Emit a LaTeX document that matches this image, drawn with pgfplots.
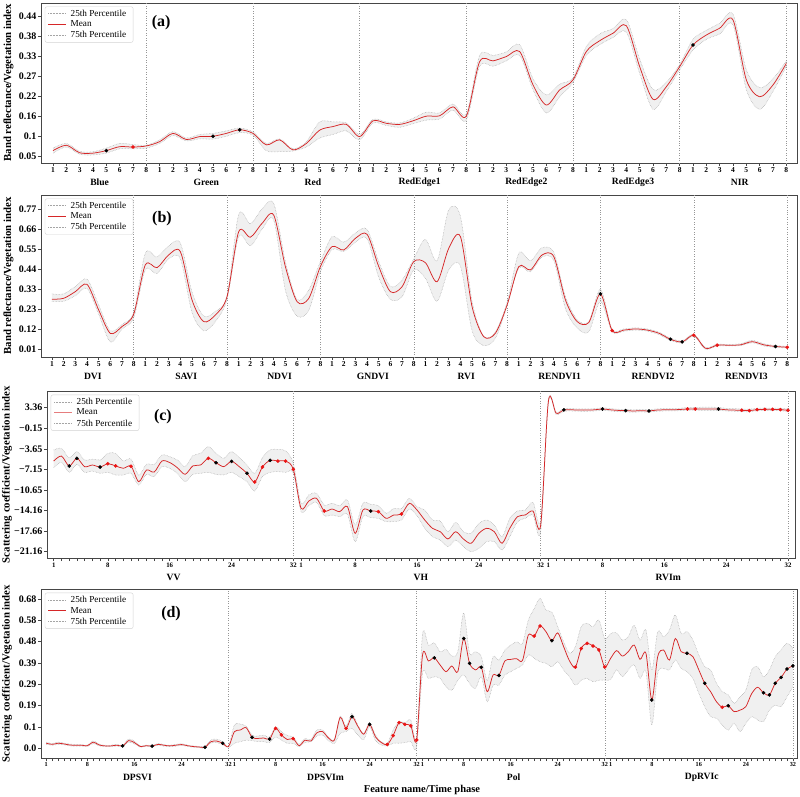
\documentclass[border=0pt]{standalone}
\usepackage{fontspec}
\setmainfont{Liberation Serif}
\usepackage{pgfplots}
\pgfplotsset{compat=1.18}
\usepackage{pgfplotstable}
\usepgfplotslibrary{fillbetween}
\definecolor{meanred}{RGB}{214,39,40}
\definecolor{mkred}{RGB}{235,20,20}
\definecolor{bandfill}{RGB}{240,240,240}
\definecolor{pctgray}{RGB}{165,165,165}
\definecolor{sepgray}{RGB}{150,150,150}
\definecolor{framegray}{RGB}{70,70,70}

\pgfplotstableread{
x m u l
0 0.065 0.072 0.058
1 0.080 0.085 0.075
2 0.059 0.063 0.055
3 0.058 0.062 0.053
4 0.065 0.072 0.058
5 0.076 0.085 0.070
6 0.075 0.082 0.070
7 0.078 0.080 0.072
8 0.090 0.095 0.085
9 0.113 0.118 0.107
10 0.096 0.100 0.092
11 0.104 0.110 0.098
12 0.105 0.113 0.097
13 0.113 0.120 0.105
14 0.123 0.128 0.115
15 0.113 0.117 0.108
16 0.081 0.085 0.065
17 0.095 0.098 0.062
18 0.067 0.070 0.064
19 0.085 0.090 0.075
20 0.122 0.145 0.100
21 0.132 0.145 0.110
22 0.138 0.142 0.120
23 0.104 0.110 0.095
24 0.148 0.152 0.142
25 0.141 0.145 0.135
26 0.138 0.142 0.130
27 0.148 0.155 0.140
28 0.161 0.172 0.150
29 0.162 0.170 0.153
30 0.187 0.195 0.178
31 0.161 0.168 0.150
32 0.313 0.330 0.300
33 0.315 0.330 0.300
34 0.327 0.340 0.315
35 0.341 0.360 0.330
36 0.248 0.265 0.235
37 0.192 0.220 0.170
38 0.234 0.250 0.215
39 0.262 0.268 0.255
40 0.341 0.355 0.330
41 0.371 0.390 0.360
42 0.392 0.405 0.380
43 0.413 0.430 0.395
44 0.299 0.320 0.280
45 0.208 0.235 0.180
46 0.243 0.255 0.230
47 0.299 0.305 0.290
48 0.359 0.375 0.345
49 0.387 0.400 0.375
50 0.406 0.420 0.390
51 0.429 0.445 0.415
52 0.262 0.290 0.235
53 0.215 0.240 0.180
54 0.248 0.265 0.230
55 0.308 0.315 0.300
}\ta

\pgfplotstableread{
x m u l
0 0.281 0.31 0.27
1 0.286 0.31 0.27
2 0.322 0.35 0.30
3 0.362 0.39 0.34
4 0.223 0.25 0.20
5 0.096 0.11 0.05
6 0.133 0.145 0.12
7 0.200 0.21 0.18
8 0.467 0.53 0.44
9 0.452 0.51 0.42
10 0.521 0.57 0.50
11 0.539 0.585 0.50
12 0.277 0.32 0.21
13 0.160 0.19 0.11
14 0.196 0.215 0.16
15 0.295 0.30 0.28
16 0.647 0.74 0.62
17 0.617 0.69 0.57
18 0.692 0.77 0.66
19 0.737 0.80 0.71
20 0.458 0.485 0.33
21 0.268 0.28 0.19
22 0.285 0.33 0.22
23 0.458 0.485 0.43
24 0.566 0.62 0.55
25 0.548 0.59 0.54
26 0.611 0.64 0.59
27 0.633 0.66 0.61
28 0.458 0.485 0.40
29 0.322 0.35 0.28
30 0.349 0.385 0.295
31 0.485 0.50 0.44
32 0.479 0.605 0.395
33 0.376 0.49 0.27
34 0.557 0.765 0.44
35 0.620 0.73 0.46
36 0.240 0.27 0.11
37 0.078 0.08 0.03
38 0.097 0.105 0.07
39 0.250 0.265 0.245
40 0.458 0.53 0.45
41 0.440 0.49 0.43
42 0.521 0.56 0.51
43 0.512 0.535 0.49
44 0.277 0.295 0.23
45 0.160 0.17 0.125
46 0.155 0.16 0.105
47 0.310 0.335 0.27
48 0.111 0.118 0.105
49 0.114 0.120 0.108
50 0.120 0.126 0.114
51 0.114 0.120 0.108
52 0.097 0.103 0.090
53 0.064 0.070 0.058
54 0.050 0.056 0.045
55 0.086 0.092 0.080
56 0.015 0.020 0.010
57 0.032 0.037 0.028
58 0.032 0.036 0.028
59 0.034 0.040 0.030
60 0.051 0.058 0.045
61 0.034 0.040 0.028
62 0.025 0.030 0.020
63 0.021 0.025 0.017
}\tb

\pgfplotstableread{
x m u l
0 -5.72 -3.84 -6.85
1 -4.87 -3.56 -5.94
2 -6.57 -5.15 -7.65
3 -5.26 -4.13 -6.28
4 -6.68 -5.55 -7.65
5 -6.40 -5.38 -7.42
6 -6.74 -5.55 -7.82
7 -6.18 -4.41 -7.65
8 -6.55 -4.41 -8.10
9 -6.96 -5.72 -8.10
10 -6.60 -5.38 -7.82
11 -9.24 -8.10 -9.80
12 -7.25 -6.28 -7.99
13 -7.60 -6.28 -8.38
14 -5.72 -4.69 -6.68
15 -5.97 -4.98 -6.96
16 -6.86 -5.55 -7.82
17 -7.98 -6.68 -9.23
18 -6.55 -4.81 -7.99
19 -6.40 -4.41 -7.82
20 -5.26 -3.28 -7.65
21 -6.01 -4.41 -7.99
22 -6.68 -5.26 -8.10
23 -5.78 -4.13 -7.65
24 -6.68 -5.15 -8.38
25 -7.81 -6.40 -9.23
26 -9.29 -7.82 -10.82
27 -6.74 -5.15 -8.38
28 -5.60 -3.84 -7.65
29 -5.72 -3.73 -7.53
30 -5.72 -4.01 -7.65
31 -7.13 -6.11 -7.82
32 -13.78 -12.92 -14.34
33 -12.53 -11.50 -13.32
34 -12.07 -11.22 -12.75
35 -14.23 -13.21 -15.02
36 -13.89 -12.92 -14.91
37 -14.34 -13.32 -15.19
38 -13.49 -12.36 -14.80
39 -18.03 -16.60 -19.45
40 -14.06 -12.92 -15.19
41 -14.23 -13.09 -15.36
42 -14.34 -13.32 -15.48
43 -15.48 -14.63 -16.05
44 -14.91 -13.80 -16.00
45 -14.74 -13.78 -15.76
46 -12.92 -12.07 -13.89
47 -14.06 -13.49 -15.02
48 -15.76 -14.06 -17.18
49 -17.18 -15.76 -18.60
50 -17.75 -15.93 -19.17
51 -18.99 -17.75 -20.30
52 -17.75 -16.16 -19.17
53 -18.99 -17.75 -20.30
54 -19.73 -18.03 -21.15
55 -18.03 -16.33 -20.59
56 -17.18 -15.76 -19.45
57 -17.75 -16.60 -19.45
58 -19.73 -18.60 -20.87
59 -17.18 -15.48 -18.60
60 -15.19 -14.23 -16.05
61 -14.91 -14.06 -15.48
62 -14.23 -12.75 -14.91
63 -16.60 -15.76 -17.75
64 4.50 4.70 4.30
65 2.40 2.60 2.20
66 2.97 3.20 2.75
67 3.00 3.20 2.80
68 2.95 3.15 2.75
69 2.95 3.15 2.75
70 3.00 3.20 2.80
71 3.14 3.35 2.95
72 3.00 3.20 2.80
73 2.90 3.10 2.70
74 2.86 3.05 2.65
75 2.80 3.00 2.60
76 2.85 3.05 2.65
77 2.80 3.00 2.60
78 2.95 3.15 2.75
79 3.00 3.20 2.80
80 3.00 3.20 2.80
81 3.05 3.25 2.85
82 3.14 3.40 2.95
83 3.14 3.40 2.95
84 3.15 3.45 2.90
85 3.15 3.45 2.90
86 3.14 3.40 2.90
87 3.00 3.25 2.80
88 2.95 3.20 2.75
89 2.92 3.15 2.70
90 2.86 3.10 2.65
91 3.03 3.25 2.85
92 3.08 3.30 2.85
93 3.08 3.30 2.85
94 3.03 3.25 2.85
95 2.92 3.15 2.70
}\tc

\pgfplotstableread{
x m u l
0 0.023 0.028 0.018
1 0.018 0.022 0.014
2 0.023 0.028 0.018
3 0.020 0.024 0.016
4 0.015 0.019 0.011
5 0.014 0.018 0.010
6 0.014 0.017 0.010
7 0.012 0.015 0.009
8 0.028 0.034 0.022
9 0.015 0.019 0.011
10 0.011 0.014 0.008
11 0.011 0.014 0.008
12 0.014 0.018 0.010
13 0.011 0.014 0.008
14 0.035 0.042 0.028
15 0.026 0.032 0.020
16 0.008 0.011 0.005
17 0.012 0.015 0.009
18 0.010 0.013 0.007
19 0.018 0.022 0.014
20 0.014 0.017 0.010
21 0.011 0.014 0.008
22 0.014 0.018 0.010
23 0.017 0.021 0.013
24 0.012 0.015 0.009
25 0.008 0.011 0.005
26 0.006 0.009 0.003
27 0.005 0.008 0.002
28 0.030 0.038 0.024
29 0.033 0.042 0.026
30 0.023 0.030 0.017
31 0.008 0.012 0.004
32 0.076 0.106 0.023
33 0.083 0.110 0.030
34 0.094 0.100 0.037
35 0.050 0.060 0.035
36 0.045 0.056 0.030
37 0.047 0.060 0.030
38 0.042 0.052 0.027
39 0.091 0.098 0.052
40 0.061 0.076 0.037
41 0.040 0.058 0.023
42 0.044 0.052 0.023
43 0.012 0.018 0.008
44 0.037 0.045 0.027
45 0.033 0.040 0.030
46 0.070 0.083 0.056
47 0.076 0.083 0.060
48 0.047 0.052 0.035
49 0.037 0.040 0.023
50 0.141 0.147 0.068
51 0.091 0.101 0.076
52 0.144 0.159 0.091
53 0.100 0.106 0.060
54 0.064 0.068 0.040
55 0.109 0.117 0.098
56 0.052 0.060 0.035
57 0.026 0.030 0.015
58 0.017 0.023 0.011
59 0.058 0.083 0.023
60 0.117 0.121 0.023
61 0.109 0.117 0.026
62 0.103 0.129 0.030
63 0.038 0.052 0.008
64 0.425 0.519 0.341
65 0.398 0.470 0.318
66 0.412 0.480 0.326
67 0.379 0.440 0.318
68 0.349 0.450 0.280
69 0.375 0.420 0.265
70 0.349 0.440 0.310
71 0.500 0.617 0.334
72 0.387 0.433 0.295
73 0.357 0.440 0.273
74 0.369 0.417 0.326
75 0.258 0.310 0.212
76 0.334 0.417 0.288
77 0.332 0.402 0.288
78 0.398 0.447 0.334
79 0.405 0.470 0.349
80 0.408 0.485 0.364
81 0.400 0.478 0.380
82 0.516 0.584 0.425
83 0.511 0.636 0.410
84 0.557 0.683 0.394
85 0.531 0.630 0.387
86 0.490 0.620 0.372
87 0.526 0.554 0.394
88 0.463 0.485 0.357
89 0.398 0.433 0.326
90 0.370 0.463 0.288
91 0.455 0.554 0.310
92 0.478 0.569 0.318
93 0.466 0.554 0.303
94 0.448 0.584 0.310
95 0.370 0.500 0.310
96 0.410 0.523 0.313
97 0.445 0.526 0.357
98 0.420 0.493 0.326
99 0.440 0.508 0.357
100 0.470 0.561 0.380
101 0.405 0.493 0.318
102 0.433 0.538 0.349
103 0.220 0.357 0.106
104 0.417 0.531 0.341
105 0.448 0.508 0.364
106 0.402 0.538 0.357
107 0.500 0.607 0.402
108 0.440 0.523 0.364
109 0.433 0.531 0.349
110 0.417 0.493 0.318
111 0.357 0.425 0.250
112 0.296 0.372 0.190
113 0.258 0.357 0.144
114 0.212 0.296 0.137
115 0.187 0.258 0.106
116 0.194 0.243 0.083
117 0.167 0.205 0.114
118 0.174 0.235 0.076
119 0.190 0.265 0.114
120 0.250 0.357 0.144
121 0.278 0.372 0.129
122 0.253 0.326 0.121
123 0.243 0.357 0.174
124 0.296 0.417 0.197
125 0.323 0.448 0.190
126 0.361 0.478 0.235
127 0.375 0.455 0.280
}\td

\tikzset{
  pct/.style={pctgray, densely dotted, line width=0.5pt},
  meanl/.style={meanred, line width=0.75pt},
  glab/.style={font=\bfseries\fontsize{9.6}{10}\selectfont, yshift=-19pt},
  plab/.style={font=\bfseries\fontsize{16}{16}\selectfont},
  sepl/.style={sepgray, dotted, line width=0.45pt},
}
\pgfplotsset{
  panel/.style={
    scale only axis, anchor=north west, set layers, clip=false,
    axis line style={framegray, line width=0.8pt},
    tick pos=left, tick align=outside,
    major tick length=3pt, minor tick length=3pt,
    tick style={framegray, line width=0.6pt},
    xticklabel style={font=\bfseries\fontsize{7.5}{8}\selectfont, inner sep=1.5pt},
    yticklabel style={font=\bfseries\fontsize{10}{10}\selectfont, inner sep=1.5pt},
    enlargelimits=false,
    legend style={font=\fontsize{9.2}{10}\selectfont, draw=gray!35, rounded corners=2pt,
      at={(0.005,0.978)}, anchor=north west, inner xsep=3pt, inner ysep=2.5pt, row sep=2.2pt,
      nodes={inner xsep=4pt, inner ysep=0.5pt}},
    legend image code/.code={\draw[##1] (0pt,0pt) -- (18pt,0pt);},
    legend cell align=left,
  },
  bmk/.style={only marks, mark=*, mark size=1.6pt, black},
  rmk/.style={only marks, mark=*, mark size=1.6pt, mkred},
  smallx/.style={xticklabel style={font=\bfseries\fontsize{6.8}{7}\selectfont, inner sep=1.5pt}},
  tinyx/.style={xticklabel style={font=\bfseries\fontsize{6.2}{7}\selectfont, inner sep=1.5pt}},
}

\begin{document}
\begin{tikzpicture}

% ---------------- (a) ----------------
\begin{axis}[panel, at={(41pt,-3pt)}, width=756pt, height=160pt,
  xmin=-0.9, xmax=55.8, ymin=0.0305, ymax=0.4762,
  xtick={0,...,55},
  xticklabels={1,2,3,4,5,6,7,8,1,2,3,4,5,6,7,8,1,2,3,4,5,6,7,8,1,2,3,4,5,6,7,8,1,2,3,4,5,6,7,8,1,2,3,4,5,6,7,8,1,2,3,4,5,6,7,8},
  ytick={0.05,0.10571,0.16143,0.21714,0.27286,0.32857,0.38429,0.44},
  yticklabels={0.05,0.1,0.16,0.22,0.27,0.33,0.38,0.44}]
\pgfplotsinvokeforeach{7,15,23,31,39,47,55}{\draw[sepl] (axis cs:#1,0.0305) -- (axis cs:#1,0.4762);}
\addlegendimage{pct}\addlegendentry{25th Percentile}
\addlegendimage{meanl}\addlegendentry{Mean}
\addlegendimage{pct}\addlegendentry{75th Percentile}
\addplot[pct, smooth, name path=Ua, forget plot] table[x=x,y=u]{\ta};
\addplot[pct, smooth, name path=La, forget plot] table[x=x,y=l]{\ta};
\addplot[fill=bandfill, draw=none, forget plot] fill between[of=Ua and La];
\addplot[meanl, smooth, forget plot] table[x=x,y=m]{\ta};
\addplot[bmk, forget plot] coordinates {(4,0.065) (12,0.105) (14,0.123) (48,0.359)};
\addplot[rmk, forget plot] coordinates {(6,0.075)};
\node[plab] at (rel axis cs:0.159,0.875) {(a)};
\node[glab] at (axis cs:3.5,0.0305) {Blue};
\node[glab] at (axis cs:11.5,0.0305) {Green};
\node[glab] at (axis cs:19.5,0.0305) {Red};
\node[glab] at (axis cs:27.5,0.0305) {RedEdge1};
\node[glab] at (axis cs:35.5,0.0305) {RedEdge2};
\node[glab] at (axis cs:43.5,0.0305) {RedEdge3};
\node[glab] at (axis cs:51.5,0.0305) {NIR};
\end{axis}

% ---------------- (b) ----------------
\begin{axis}[panel, at={(41pt,-195pt)}, width=756pt, height=162pt,
  xmin=-0.94, xmax=63.84, ymin=-0.032, ymax=0.8458,
  xtick={0,...,63},
  xticklabels={1,2,3,4,5,6,7,8,1,2,3,4,5,6,7,8,1,2,3,4,5,6,7,8,1,2,3,4,5,6,7,8,1,2,3,4,5,6,7,8,1,2,3,4,5,6,7,8,1,2,3,4,5,6,7,8,1,2,3,4,5,6,7,8},
  ytick={0.01,0.11857,0.22714,0.33571,0.44429,0.55286,0.66143,0.77},
  yticklabels={0.01,0.12,0.23,0.33,0.44,0.55,0.66,0.77}]
\pgfplotsinvokeforeach{7,15,23,31,39,47,55,63}{\draw[sepl] (axis cs:#1,-0.032) -- (axis cs:#1,0.8458);}
\addlegendimage{pct}\addlegendentry{25th Percentile}
\addlegendimage{meanl}\addlegendentry{Mean}
\addlegendimage{pct}\addlegendentry{75th Percentile}
\addplot[pct, smooth, name path=Ub, forget plot] table[x=x,y=u]{\tb};
\addplot[pct, smooth, name path=Lb, forget plot] table[x=x,y=l]{\tb};
\addplot[fill=bandfill, draw=none, forget plot] fill between[of=Ub and Lb];
\addplot[meanl, smooth, forget plot] table[x=x,y=m]{\tb};
\addplot[bmk, forget plot] coordinates {(47,0.310) (53,0.064) (54,0.050) (62,0.025)};
\addplot[rmk, forget plot] coordinates {(48,0.111) (55,0.086) (57,0.032) (63,0.021)};
\node[plab] at (rel axis cs:0.16,0.852) {(b)};
\node[glab] at (axis cs:3.5,-0.032) {DVI};
\node[glab] at (axis cs:11.5,-0.032) {SAVI};
\node[glab] at (axis cs:19.5,-0.032) {NDVI};
\node[glab] at (axis cs:27.5,-0.032) {GNDVI};
\node[glab] at (axis cs:35.5,-0.032) {RVI};
\node[glab] at (axis cs:43.5,-0.032) {RENDVI1};
\node[glab] at (axis cs:51.5,-0.032) {RENDVI2};
\node[glab] at (axis cs:59.5,-0.032) {RENDVI3};
\end{axis}

% ---------------- (c) ----------------
\begin{axis}[panel, smallx, at={(47pt,-391pt)}, width=748pt, height=167pt,
  xmin=-0.87, xmax=95.9, ymin=-22.23, ymax=6.20,
  xtick={0,7,15,23,31,32,39,47,55,63,64,71,79,87,95},
  xticklabels={1,8,16,24,32,1,8,16,24,32,1,8,16,24,32},
  minor xtick={0,...,95},
  ytick={-21.16,-17.6571,-14.1543,-10.6514,-7.1486,-3.6457,-0.1429,3.36},
  yticklabels={−21.16,−17.66,−14.16,−10.65,−7.15,−3.65,−0.15,3.36}]
\pgfplotsinvokeforeach{31,63,95}{\draw[sepl] (axis cs:#1,-22.23) -- (axis cs:#1,6.20);}
\addlegendimage{pct}\addlegendentry{25th Percentile}
\addlegendimage{meanl, opacity=0.6}\addlegendentry{Mean}
\addlegendimage{pct}\addlegendentry{75th Percentile}
\addplot[pct, smooth, name path=Uc, forget plot] table[x=x,y=u]{\tc};
\addplot[pct, smooth, name path=Lc, forget plot] table[x=x,y=l]{\tc};
\addplot[fill=bandfill, draw=none, forget plot] fill between[of=Uc and Lc];
\addplot[meanl, smooth, forget plot] table[x=x,y=m]{\tc};
\addplot[bmk, forget plot] coordinates {(2,-6.57) (3,-5.26) (6,-6.74) (21,-6.01) (23,-5.78) (25,-7.81) (28,-5.60) (41,-14.23) (66,2.97) (71,3.14) (74,2.86) (77,2.80) (86,3.14)};
\addplot[rmk, forget plot] coordinates {(7,-6.18) (8,-6.55) (10,-6.60) (20,-5.26) (26,-9.29) (27,-6.74) (29,-5.72) (30,-5.72) (31,-7.13) (35,-14.23) (42,-14.34) (45,-14.74) (82,3.14) (83,3.14) (89,2.92) (90,2.86) (91,3.03) (92,3.08) (93,3.08) (94,3.03) (95,2.92)};
\node[plab] at (rel axis cs:0.155,0.846) {(c)};
\node[glab] at (axis cs:15.5,-22.23) {VV};
\node[glab] at (axis cs:47.5,-22.23) {VH};
\node[glab] at (axis cs:79.5,-22.23) {RVIm};
\end{axis}

% ---------------- (d) ----------------
\begin{axis}[panel, tinyx, at={(41pt,-589pt)}, width=756pt, height=169pt,
  xmin=-0.9, xmax=127.7, ymin=-0.0442, ymax=0.7255,
  xtick={0,7,15,23,31,32,39,47,55,63,64,71,79,87,95,96,103,111,119,127},
  xticklabels={1,8,16,24,32,1,8,16,24,32,1,8,16,24,32,1,8,16,24,32},
  minor xtick={0,...,127},
  ytick={0,0.097143,0.194286,0.291429,0.388571,0.485714,0.582857,0.68},
  yticklabels={0.0,0.1,0.19,0.29,0.39,0.48,0.58,0.68}]
\pgfplotsinvokeforeach{31,63,95,127}{\draw[sepl] (axis cs:#1,-0.0442) -- (axis cs:#1,0.7255);}
\addlegendimage{pct}\addlegendentry{25th Percentile}
\addlegendimage{meanl}\addlegendentry{Mean}
\addlegendimage{pct}\addlegendentry{75th Percentile}
\addplot[pct, smooth, name path=Ud, forget plot] table[x=x,y=u]{\td};
\addplot[pct, smooth, name path=Ld, forget plot] table[x=x,y=l]{\td};
\addplot[fill=bandfill, draw=none, forget plot] fill between[of=Ud and Ld];
\addplot[meanl, smooth, forget plot] table[x=x,y=m]{\td};
\addplot[bmk, forget plot] coordinates {(13,0.011) (18,0.010) (27,0.005) (30,0.023) (35,0.050) (38,0.042) (52,0.144) (55,0.109) (66,0.412) (71,0.500) (72,0.387) (74,0.369) (77,0.332) (86,0.490) (103,0.220) (109,0.433) (112,0.296) (116,0.194) (122,0.253) (123,0.243) (124,0.296) (125,0.323) (126,0.361) (127,0.375)};
\addplot[rmk, forget plot] coordinates {(39,0.091) (40,0.061) (42,0.044) (51,0.091) (58,0.017) (59,0.058) (60,0.117) (61,0.109) (62,0.103) (63,0.038) (83,0.511) (84,0.557) (90,0.370) (91,0.455) (92,0.478) (93,0.466) (94,0.448) (95,0.370) (115,0.187)};
\node[plab] at (rel axis cs:0.172,0.852) {(d)};
\node[glab] at (axis cs:15.5,-0.0442) {DPSVI};
\node[glab] at (axis cs:47.5,-0.0442) {DPSVIm};
\node[glab] at (axis cs:79.5,-0.0442) {Pol};
\node[glab] at (axis cs:111.5,-0.0442) {DpRVIc};
\end{axis}

\node[rotate=90, font=\bfseries\fontsize{10.8}{11}\selectfont] at (8.5pt,-83pt) {Band reflectance/Vegetation index};
\node[rotate=90, font=\bfseries\fontsize{10.8}{11}\selectfont] at (8.5pt,-276pt) {Band reflectance/Vegetation index};
\node[rotate=90, font=\bfseries\fontsize{10.8}{11}\selectfont] at (7pt,-474.5pt) {Scattering coefficient/Vegetation index};
\node[rotate=90, font=\bfseries\fontsize{10.8}{11}\selectfont] at (7pt,-673.5pt) {Scattering coefficient/Vegetation index};
\node[font=\bfseries\fontsize{10.5}{11}\selectfont] at (422pt,-790pt) {Feature name/Time phase};
\pgfresetboundingbox
\useasboundingbox (0,0) rectangle (800pt,-797pt);
\end{tikzpicture}
\end{document}
